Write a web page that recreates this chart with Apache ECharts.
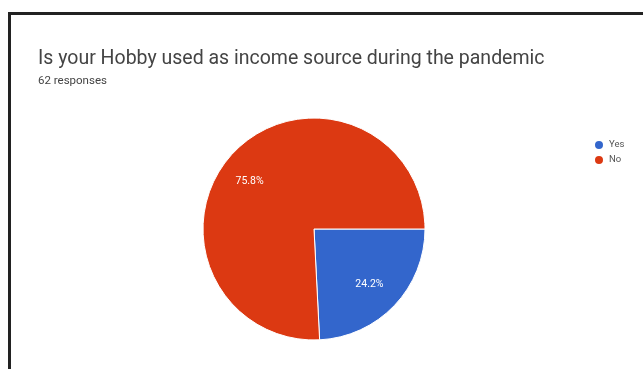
<!DOCTYPE html>
<html>
<head>
<meta charset="utf-8">
<script src="https://cdn.jsdelivr.net/npm/echarts@6/dist/echarts.min.js"></script>
<style>
  html, body { margin: 0; padding: 0; background: #ffffff; }
  #wrap { position: relative; width: 643px; height: 369px; overflow: hidden; background: #ffffff; }
  #frame { position: absolute; left: 8px; top: 12px; width: 700px; height: 400px;
           border: 3px solid #222222; box-sizing: border-box; }
  #chart { position: absolute; left: 0; top: 0; width: 643px; height: 369px; }
</style>
</head>
<body>
<div id="wrap">
  <div id="frame"></div>
  <div id="chart"></div>
</div>
<script>
// Survey answers
const answers = ['Yes', 'No'];
const responses = [15, 47];
const answerColors = ['#3366cc', '#dc3912'];
const titleText = 'Is your Hobby used as income source during the pandemic';
const subtitleText = '62 responses';

// small nudges for the percentage labels inside each slice
const labelNudge = [[-4, -1], [-5, 9]];

const pieData = answers.map((name, i) => ({
  name: name,
  value: responses[i],
  itemStyle: { color: answerColors[i] }
}));

const chart = echarts.init(document.getElementById('chart'), null, { renderer: 'canvas' });

chart.setOption({
  animation: false,
  backgroundColor: 'transparent',
  title: {
    text: titleText,
    subtext: subtitleText,
    left: 33,
    top: 44,
    itemGap: 6,
    textStyle: { fontFamily: 'Roboto', fontSize: 19.5, fontWeight: 'normal', color: '#444444' },
    subtextStyle: { fontFamily: 'Roboto', fontSize: 11.5, color: '#444444' }
  },
  legend: {
    orient: 'vertical',
    left: 588,
    top: 134,
    icon: 'circle',
    itemWidth: 10,
    itemHeight: 10,
    itemGap: 3,
    data: answers,
    textStyle: { fontFamily: 'Roboto', fontSize: 9.5, color: '#555555' }
  },
  series: [
    {
      type: 'pie',
      center: [314, 229],
      radius: [0, 111],
      startAngle: 0,
      clockwise: true,
      silent: true,
      label: { show: false },
      labelLine: { show: false },
      itemStyle: { borderColor: '#ffffff', borderWidth: 1 },
      data: pieData
    },
    {
      // transparent ring that carries the percentage labels
      type: 'pie',
      center: [314, 229],
      radius: [47, 111],
      startAngle: 0,
      clockwise: true,
      silent: true,
      legendHoverLink: false,
      itemStyle: { color: 'rgba(0,0,0,0)', borderWidth: 0 },
      label: {
        show: true,
        position: 'inside',
        formatter: p => p.percent.toFixed(1) + '%',
        fontFamily: 'Roboto',
        fontSize: 10.5,
        color: '#ffffff'
      },
      labelLine: { show: false },
      data: answers.map((name, i) => ({
        name: name,
        value: responses[i],
        label: { offset: labelNudge[i] }
      }))
    }
  ]
});
</script>
</body>
</html>
